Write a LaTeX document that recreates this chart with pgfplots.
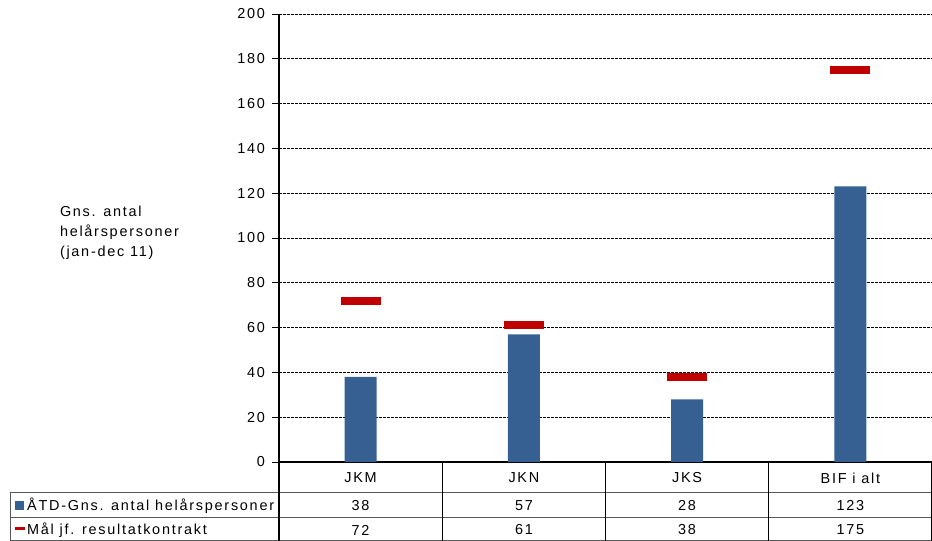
\documentclass[border=0pt]{standalone}
\usepackage{pgfplots}
\pgfplotsset{compat=1.18}
\usepackage{fontspec}
\setmainfont{Liberation Sans}
\newfontfamily\spaced[LetterSpace=12]{Liberation Sans}
\definecolor{barblue}{HTML}{376092}
\definecolor{mred}{HTML}{C00000}
\begin{document}
\fontsize{14.5}{17}\selectfont
\begin{tikzpicture}[x=1bp,y=1bp]
\begin{axis}[
  at={(0,0)}, anchor=south west,
  scale only axis, width=653bp, height=448bp,
  xmin=-0.5, xmax=3.5, ymin=0, ymax=200,
  ytick={0,20,...,200},
  xtick=\empty,
  axis x line*=bottom, axis y line*=left,
  x axis line style={-, line width=1.3bp, black},
  y axis line style={-, line width=1.8bp, black},
  ymajorgrids,
  grid style={black, line width=0.6bp, dash pattern=on 3bp off 1bp},
  tick align=outside, major tick length=7bp,
  ytick style={black, line width=0.6bp},
  /pgf/number format/assume math mode=true,
  ticklabel style={font=\spaced\fontsize{14.5}{17}\selectfont},
  yticklabel style={xshift=-2bp},
  clip=false,
]
\addplot[ybar, bar width=32bp, fill=barblue, draw=none] coordinates {(0,38) (1,57) (2,28) (3,123)};
\addplot[only marks, mark=-, mark size=20bp, mark options={line width=8bp, draw=mred}] coordinates {(0,72) (1,61) (2,38) (3,175)};
\end{axis}
% y label
\node[anchor=west, align=left, font=\spaced\fontsize{14.5}{20}\selectfont] at (-224,229) {Gns. antal\\helårspersoner\\(jan-dec 11)};
% table lines
\draw[gray!70!black, line width=0.7bp] (-269,-30) -- (653,-30);
\draw[gray!70!black, line width=0.7bp] (-269,-55) -- (653,-55);
\draw[gray!70!black, line width=0.7bp] (-269,-78.6) -- (653,-78.6);
\draw[gray!70!black, line width=0.8bp] (-268.6,-30) -- (-268.6,-79);
\draw[black, line width=1.3bp] (0,0) -- (0,-79);
\foreach \xx in {163.25,326.5,489.75} \draw[black, line width=0.9bp] (\xx,0) -- (\xx,-79);
\draw[black, line width=0.9bp] (652.6,0) -- (652.6,-79);
% category row
\foreach \xx/\lab in {81.6/JKM,244.9/JKN,408.1/JKS,571.4/BIF i alt}
  \node[font=\spaced] at (\xx,-16) {\lab};
\foreach \xx/\v in {81.6/38,244.9/57,408.1/28,571.4/123}
  \node[font=\spaced] at (\xx,-43.5) {\v};
\foreach \xx/\v in {81.6/72,244.9/61,408.1/38,571.4/175}
  \node[font=\spaced] at (\xx,-68) {\v};
% legend keys
\fill[barblue] (-264,-39) rectangle (-255,-48);
\fill[mred] (-264,-65) rectangle (-254,-67.8);
\node[anchor=west, font=\spaced, inner sep=0pt] at (-252,-43.5) {ÅTD-Gns. antal helårspersoner};
\node[anchor=west, font=\spaced, inner sep=0pt] at (-252,-68) {Mål jf. resultatkontrakt};
\pgfresetboundingbox
\path (-279,-79) rectangle (653,462);
\end{tikzpicture}
\end{document}
